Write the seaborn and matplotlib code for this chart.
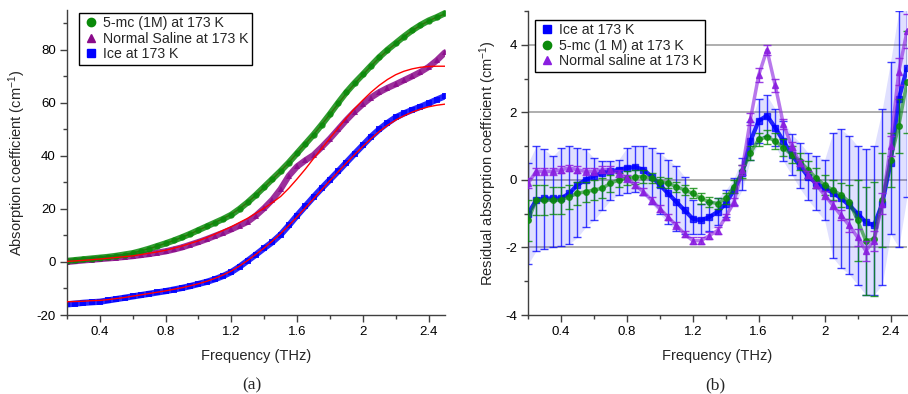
import numpy as np
import pandas as pd
import matplotlib
matplotlib.use("Agg")
import matplotlib.pyplot as plt
from matplotlib.lines import Line2D
from matplotlib.ticker import MultipleLocator
import seaborn as sns

# ---------------- data ----------------
freq = [0.20, 0.25, 0.30, 0.35, 0.40, 0.45, 0.50, 0.55, 0.60, 0.65, 0.70, 0.75,
        0.80, 0.85, 0.90, 0.95, 1.00, 1.05, 1.10, 1.15, 1.20, 1.25, 1.30, 1.35,
        1.40, 1.45, 1.50, 1.55, 1.60, 1.65, 1.70, 1.75, 1.80, 1.85, 1.90, 1.95,
        2.00, 2.05, 2.10, 2.15, 2.20, 2.25, 2.30, 2.35, 2.40, 2.45, 2.50]

# panel (a): absorption coefficient (cm^-1)
abs_5mc = [0.4, 0.7, 1.0, 1.3, 1.6, 1.9, 2.3, 2.8, 3.3, 4.1, 5.0, 6.0,
           7.0, 8.1, 9.3, 10.6, 12.0, 13.4, 14.8, 16.2, 17.8, 20.0, 22.5, 25.3,
           28.3, 31.3, 34.3, 37.5, 41.0, 44.5, 48.0, 51.8, 55.8, 60.0, 64.0, 67.5,
           70.7, 74.0, 77.2, 80.0, 82.5, 85.0, 87.3, 89.3, 91.0, 92.3, 93.8]
fit_5mc = [0.5, 0.8, 1.1, 1.4, 1.7, 2.0, 2.4, 2.9, 3.4, 4.2, 5.0, 6.0,
           7.0, 8.1, 9.3, 10.6, 12.0, 13.4, 14.9, 16.4, 18.0, 20.1, 22.5, 25.2,
           28.2, 31.2, 34.3, 37.5, 41.0, 44.5, 48.0, 51.8, 55.7, 59.7, 63.6, 67.2,
           70.6, 73.9, 77.0, 79.8, 82.4, 84.9, 87.2, 89.2, 90.9, 92.3, 93.5]
abs_saline = [0.0, 0.3, 0.6, 0.85, 1.1, 1.35, 1.6, 1.9, 2.2, 2.6, 3.0, 3.5,
              4.0, 4.7, 5.5, 6.5, 7.5, 8.6, 9.8, 11.0, 12.3, 13.7, 15.2, 17.5,
              20.3, 23.5, 27.5, 32.5, 36.0, 38.3, 40.3, 43.3, 46.5, 50.0, 53.5, 56.7,
              59.5, 62.0, 64.0, 65.6, 67.0, 68.5, 70.0, 71.6, 73.5, 76.0, 79.0]
fit_saline = [0.2, 0.4, 0.6, 0.85, 1.1, 1.4, 1.7, 2.0, 2.3, 2.8, 3.3, 3.8,
              4.4, 5.2, 6.0, 7.0, 8.0, 9.2, 10.5, 11.9, 13.3, 14.9, 16.5, 18.4,
              20.3, 22.4, 24.7, 27.8, 31.3, 35.0, 39.0, 42.8, 46.7, 50.5, 54.3, 57.8,
              61.0, 64.0, 66.6, 68.8, 70.6, 71.9, 72.8, 73.4, 73.7, 73.8, 73.8]
abs_ice = [-16.0, -15.7, -15.4, -15.2, -15.0, -14.5, -14.0, -13.5, -13.0, -12.5, -12.0, -11.5,
           -11.0, -10.4, -9.8, -9.1, -8.3, -7.5, -6.5, -5.3, -3.8, -1.8, 0.5, 2.8,
           5.2, 7.5, 10.3, 13.8, 17.5, 21.0, 24.5, 27.8, 31.0, 34.2, 37.5, 40.8,
           44.0, 47.2, 50.0, 52.4, 54.5, 56.0, 57.3, 58.5, 59.8, 61.2, 62.5]
fit_ice = [-15.0, -14.9, -14.8, -14.6, -14.5, -14.2, -13.8, -13.4, -12.9, -12.4, -11.9, -11.4,
           -10.9, -10.3, -9.7, -9.0, -8.2, -7.3, -6.2, -4.9, -3.4, -1.5, 0.6, 2.9,
           5.3, 7.9, 10.7, 13.8, 17.0, 20.4, 23.8, 27.3, 30.7, 34.0, 37.3, 40.5,
           43.6, 46.5, 49.2, 51.5, 53.5, 55.1, 56.5, 57.6, 58.5, 59.1, 59.5]

# panel (b): residual absorption coefficient (cm^-1)
res_ice = [-1.0, -0.6, -0.55, -0.55, -0.55, -0.4, -0.15, 0.0, 0.12, 0.2, 0.25, 0.3,
           0.35, 0.38, 0.3, 0.1, -0.15, -0.4, -0.65, -0.9, -1.15, -1.2, -1.1, -0.95,
           -0.7, -0.3, 0.2, 1.15, 1.75, 1.9, 1.55, 1.15, 0.75, 0.42, 0.1, -0.1,
           -0.25, -0.38, -0.55, -0.75, -1.0, -1.25, -1.35, -0.7, 0.5, 2.4, 3.3]
res_ice_hi = [0.5, 1.0, 0.9, 0.7, 0.95, 1.0, 0.95, 0.9, 0.65, 0.55, 0.55, 0.6,
              0.95, 1.0, 1.0, 0.95, 0.8, 0.6, 0.4, 0.1, -0.6, -0.7, -0.65, -0.55,
              -0.3, 0.05, 0.65, 1.7, 2.4, 2.5, 2.1, 1.75, 1.35, 1.1, 0.8, 0.7,
              0.6, 1.4, 1.5, 1.3, 1.0, 0.9, 1.0, 2.1, 3.5, 5.0, 5.5]
res_ice_lo = [-2.5, -2.1, -2.05, -2.0, -1.95, -1.9, -1.7, -1.4, -1.2, -0.9, -0.6, -0.45,
              -0.4, -0.35, -0.45, -0.7, -1.0, -1.3, -1.5, -1.6, -1.6, -1.6, -1.5, -1.35,
              -1.1, -0.75, -0.3, 0.6, 1.1, 1.3, 1.0, 0.55, 0.15, -0.25, -0.6, -0.9,
              -1.2, -2.3, -2.6, -2.8, -3.1, -3.4, -3.4, -3.1, -1.6, -2.0, -0.5]
res_5mc = [-1.2, -0.6, -0.6, -0.6, -0.6, -0.5, -0.4, -0.35, -0.3, -0.25, -0.1, 0.0,
           0.05, 0.08, 0.1, 0.05, -0.05, -0.1, -0.2, -0.3, -0.4, -0.55, -0.65, -0.7,
           -0.55, -0.2, 0.25, 0.8, 1.2, 1.27, 1.15, 0.95, 0.75, 0.55, 0.3, 0.05,
           -0.15, -0.3, -0.45, -0.65, -1.2, -1.8, -1.75, -0.6, 0.6, 1.6, 2.9]
err_5mc = [0.6, 0.45, 0.45, 0.4, 0.4, 0.35, 0.35, 0.3, 0.3, 0.3, 0.25, 0.2,
           0.2, 0.2, 0.2, 0.15, 0.15, 0.15, 0.15, 0.15, 0.15, 0.15, 0.15, 0.15,
           0.15, 0.2, 0.2, 0.2, 0.2, 0.2, 0.25, 0.25, 0.25, 0.25, 0.25, 0.3,
           0.3, 0.3, 0.35, 0.5, 1.2, 1.6, 1.7, 1.4, 0.8, 0.8, 1.5]
res_saline = [-0.1, 0.25, 0.25, 0.25, 0.3, 0.35, 0.3, 0.25, 0.25, 0.3, 0.3, 0.2,
              0.05, -0.15, -0.35, -0.6, -0.85, -1.1, -1.35, -1.6, -1.8, -1.8, -1.65, -1.5,
              -1.1, -0.65, 0.3, 1.8, 3.1, 3.85, 2.8, 1.65, 1.0, 0.5, 0.15, -0.15,
              -0.45, -0.75, -1.05, -1.35, -1.7, -2.1, -1.8, -0.7, 1.0, 3.2, 4.4]
err_saline = [0.15, 0.1, 0.1, 0.1, 0.1, 0.1, 0.1, 0.1, 0.1, 0.1, 0.1, 0.1,
              0.1, 0.1, 0.1, 0.1, 0.1, 0.1, 0.1, 0.1, 0.1, 0.1, 0.1, 0.1,
              0.1, 0.12, 0.15, 0.18, 0.2, 0.15, 0.2, 0.15, 0.12, 0.1, 0.1, 0.1,
              0.12, 0.12, 0.15, 0.2, 0.25, 0.3, 0.3, 0.3, 0.3, 0.4, 0.5]

# ---------------- style ----------------
sns.set_theme(style="white")
plt.rcParams["font.family"] = ["Liberation Sans", "DejaVu Sans"]
plt.rcParams["mathtext.fontset"] = "custom"
plt.rcParams["mathtext.rm"] = "Liberation Sans"
plt.rcParams["mathtext.it"] = "Liberation Sans:italic"
plt.rcParams["axes.unicode_minus"] = False

GREEN = "#0a8a0a"
PURPLE_A = "#8a0a8a"
BLUE = "#0000ff"
RED = "#ff0000"
PURPLE_B = "#8a1ee0"
SPINE = "#404040"

fig = plt.figure(figsize=(9.08, 3.94), dpi=100)
axA = fig.add_axes([67 / 908, 1 - 315 / 394, 378 / 908, 305 / 394])
axB = fig.add_axes([528 / 908, 1 - 315 / 394, 379 / 908, 304 / 394])

df = pd.DataFrame({"f": freq, "g": abs_5mc, "gf": fit_5mc, "p": abs_saline,
                   "pf": fit_saline, "b": abs_ice, "bf": fit_ice})

# ---- panel (a) ----
sns.lineplot(data=df, x="f", y="gf", ax=axA, color=RED, lw=1.0, zorder=1.5)
for col, c, m in [("b", BLUE, "s"), ("p", PURPLE_A, "^"), ("g", GREEN, "o")]:
    sns.lineplot(data=df, x="f", y=col, ax=axA, color=c, lw=4.5, alpha=0.85,
                 marker=m, markersize=4.5, markeredgewidth=0, zorder=2)
for col in ["bf", "pf"]:
    sns.lineplot(data=df, x="f", y=col, ax=axA, color=RED, lw=1.0, zorder=3)

axA.set_xlim(0.2, 2.5)
axA.set_ylim(-20, 95)
axA.set_xticks([0.4, 0.8, 1.2, 1.6, 2.0, 2.4])
axA.set_xticklabels(["0.4", "0.8", "1.2", "1.6", "2", "2.4"])
axA.xaxis.set_minor_locator(MultipleLocator(0.2))
axA.set_yticks([-20, 0, 20, 40, 60, 80])
axA.set_yticklabels(["-20", "0", "20", "40", "60", "80"])
axA.yaxis.set_minor_locator(MultipleLocator(10))
axA.set_xlabel("Frequency (THz)", fontsize=10.5, labelpad=8)
axA.set_ylabel(r"Absorption coefficient (cm$^{-1}$)", fontsize=10.5, labelpad=6)

hA = [Line2D([], [], ls="none", marker="o", color=GREEN, ms=6),
      Line2D([], [], ls="none", marker="^", color=PURPLE_A, ms=6),
      Line2D([], [], ls="none", marker="s", color=BLUE, ms=5.5)]
legA = axA.legend(hA, ["5-mc (1M) at 173 K", "Normal Saline at 173 K", "Ice at 173 K"],
                  loc="upper left", bbox_to_anchor=(0.025, 1.0), fontsize=10.2,
                  frameon=True, fancybox=False, framealpha=1, edgecolor="black",
                  handletextpad=0.2, borderpad=0.25, labelspacing=0.1,
                  handlelength=1.2, borderaxespad=0.2)
legA.get_frame().set_linewidth(1.0)

# ---- panel (b) ----
for y in [-2, 0, 2, 4]:
    axB.axhline(y, color="#a8a8a8", lw=1.3, zorder=0)

axB.fill_between(freq, res_ice_lo, res_ice_hi, color=BLUE, alpha=0.12, lw=0, zorder=1)
ice_err = [np.array(res_ice) - np.array(res_ice_lo), np.array(res_ice_hi) - np.array(res_ice)]
axB.errorbar(freq, res_ice, yerr=ice_err, fmt="s", color=BLUE, ms=4,
             ecolor=BLUE, elinewidth=1.0, capsize=3, capthick=1.0, alpha=0.75, zorder=2)
axB.errorbar(freq, res_5mc, yerr=err_5mc, fmt="o", color=GREEN, ms=4,
             ecolor=GREEN, elinewidth=1.0, capsize=3, capthick=1.0, alpha=0.8, zorder=3)
axB.errorbar(freq, res_saline, yerr=err_saline, fmt="^", color=PURPLE_B, ms=4.5,
             ecolor=PURPLE_B, elinewidth=1.0, capsize=3, capthick=1.0, alpha=0.85, zorder=4)
dfb = pd.DataFrame({"f": freq, "i": res_ice, "g": res_5mc, "s": res_saline})
sns.lineplot(data=dfb, x="f", y="i", ax=axB, color=BLUE, lw=3.0, alpha=0.85, zorder=2.5)
sns.lineplot(data=dfb, x="f", y="g", ax=axB, color=GREEN, lw=2.5, alpha=0.6, zorder=3.5)
sns.lineplot(data=dfb, x="f", y="s", ax=axB, color=PURPLE_B, lw=2.5, alpha=0.6, zorder=4.5)

axB.set_xlim(0.2, 2.5)
axB.set_ylim(-4, 5)
axB.set_xticks([0.4, 0.8, 1.2, 1.6, 2.0, 2.4])
axB.set_xticklabels(["0.4", "0.8", "1.2", "1.6", "2", "2.4"])
axB.xaxis.set_minor_locator(MultipleLocator(0.2))
axB.set_yticks([-4, -2, 0, 2, 4])
axB.set_yticklabels(["-4", "-2", "0", "2", "4"])
axB.yaxis.set_minor_locator(MultipleLocator(1))
axB.set_xlabel("Frequency (THz)", fontsize=10.5, labelpad=8)
axB.set_ylabel(r"Residual absorption coefficient (cm$^{-1}$)", fontsize=10.5, labelpad=4)

hB = [Line2D([], [], ls="none", marker="s", color=BLUE, ms=5.5),
      Line2D([], [], ls="none", marker="o", color=GREEN, ms=6),
      Line2D([], [], ls="none", marker="^", color=PURPLE_B, ms=6)]
legB = axB.legend(hB, ["Ice at 173 K", "5-mc (1 M) at 173 K", "Normal saline at 173 K"],
                  loc="upper left", bbox_to_anchor=(0.012, 0.98), fontsize=10.2,
                  frameon=True, fancybox=False, framealpha=1, edgecolor="black",
                  handletextpad=0.2, borderpad=0.25, labelspacing=0.1,
                  handlelength=1.2, borderaxespad=0.2)
legB.get_frame().set_linewidth(1.0)

for ax in (axA, axB):
    sns.despine(ax=ax)
    for s in ("left", "bottom"):
        ax.spines[s].set_color(SPINE)
        ax.spines[s].set_linewidth(1.0)
    ax.tick_params(which="major", direction="out", length=5, width=1.0, color=SPINE,
                   labelsize=9.5, labelcolor="black", left=True, bottom=True, pad=3)
    ax.tick_params(which="minor", direction="out", length=3, width=1.0, color=SPINE,
                   left=True, bottom=True)
    ax.set_facecolor("white")
    ax.grid(False)

fig.text(252 / 908, 1 - 385 / 394, "(a)", ha="center", va="center",
         family=["Liberation Serif", "DejaVu Serif"], fontsize=12.5)
fig.text(715 / 908, 1 - 385 / 394, "(b)", ha="center", va="center",
         family=["Liberation Serif", "DejaVu Serif"], fontsize=12.5)

fig.savefig("out.png", dpi=100, facecolor="white")
